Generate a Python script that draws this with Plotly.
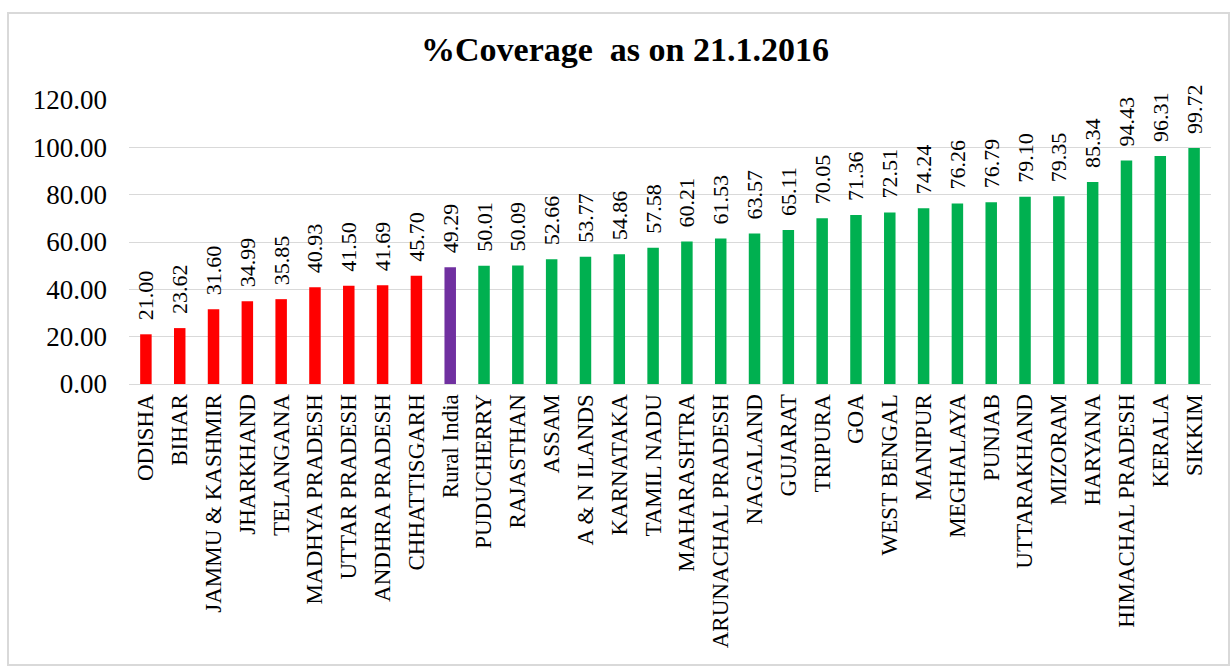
import plotly.graph_objects as go

categories = ["ODISHA", "BIHAR", "JAMMU & KASHMIR", "JHARKHAND", "TELANGANA",
              "MADHYA PRADESH", "UTTAR PRADESH", "ANDHRA PRADESH", "CHHATTISGARH",
              "Rural India", "PUDUCHERRY", "RAJASTHAN", "ASSAM", "A & N ILANDS",
              "KARNATAKA", "TAMIL NADU", "MAHARASHTRA", "ARUNACHAL PRADESH",
              "NAGALAND", "GUJARAT", "TRIPURA", "GOA", "WEST BENGAL", "MANIPUR",
              "MEGHALAYA", "PUNJAB", "UTTARAKHAND", "MIZORAM", "HARYANA",
              "HIMACHAL PRADESH", "KERALA", "SIKKIM"]
coverage = [21.00, 23.62, 31.60, 34.99, 35.85, 40.93, 41.50, 41.69, 45.70,
            49.29, 50.01, 50.09, 52.66, 53.77, 54.86, 57.58, 60.21, 61.53,
            63.57, 65.11, 70.05, 71.36, 72.51, 74.24, 76.26, 76.79, 79.10,
            79.35, 85.34, 94.43, 96.31, 99.72]
groups = ["low"] * 9 + ["india"] + ["high"] * 22
group_colors = {"low": "#FF0000", "india": "#7030A0", "high": "#00B050"}
y_ticks = [0, 20, 40, 60, 80, 100, 120]

colors = [group_colors[g] for g in groups]
serif = "Liberation Serif, Times New Roman, serif"

fig = go.Figure(go.Bar(
    x=categories, y=coverage, marker_color=colors, marker_line_width=0,
    text=["\u00a0\u00a0" + f"{v:.2f}" for v in coverage],
    textposition="outside", textangle=-90, constraintext="none",
    textfont=dict(family=serif, size=22, color="#000000"), cliponaxis=False,
    hovertemplate="%{x}: %{y:.2f}<extra></extra>",
))

L, R, T, B = 129, 1211, 100, 384
W, H = 1231, 666
pw, ph = R - L, B - T

def px(x):
    return (x - L) / pw

def py(y):
    return (B - y) / ph

fig.update_layout(
    width=W, height=H,
    margin=dict(l=L, r=W - R, t=T, b=H - B, autoexpand=False),
    paper_bgcolor="white", plot_bgcolor="white",
    bargap=0.66, showlegend=False,
    title=dict(text="<b>%Coverage  as on 21.1.2016</b>", x=625 / W, xref="container",
               xanchor="center", y=1 - 49 / H, yanchor="middle",
               font=dict(family=serif, size=34, color="#000000")),
    xaxis=dict(tickangle=-90, tickfont=dict(family=serif, size=23, color="#000000"),
               showline=True, linecolor="#d9d9d9", linewidth=1, ticks="",
               showgrid=False, automargin=False),
    yaxis=dict(range=[0, 120], tickvals=y_ticks, tickformat=".2f",
               tickfont=dict(family=serif, size=27, color="#000000"),
               showgrid=True, gridcolor="#d9d9d9", gridwidth=1, zeroline=False,
               ticks="", ticklabelstandoff=21, automargin=False),
    shapes=[dict(type="rect", xref="paper", yref="paper",
                 x0=px(8), x1=px(1229), y0=py(665), y1=py(13),
                 line=dict(color="#d9d9d9", width=2), layer="below")],
)

fig.write_html("out.html", config={"displayModeBar": False},
               post_script="document.body.style.margin='0';document.body.style.overflow='hidden';")
